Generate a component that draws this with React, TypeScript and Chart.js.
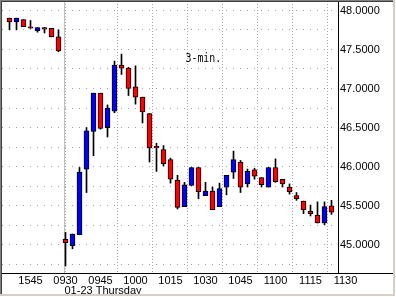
import React, { useEffect, useRef } from 'react';
import { Chart, registerables } from 'chart.js';

Chart.register(...registerables);

// 3-minute bars: previous session close, then 01-23 Thursday morning
const times = [
  '1536', '1539', '1542', '1545', '1548', '1551', '1554', '1557',
  '0930', '0933', '0936', '0939', '0942', '0945', '0948', '0951', '0954', '0957',
  '1000', '1003', '1006', '1009', '1012', '1015', '1018', '1021', '1024', '1027',
  '1030', '1033', '1036', '1039', '1042', '1045', '1048', '1051', '1054', '1057',
  '1100', '1103', '1106', '1109', '1112', '1115', '1118', '1121', '1124',
];

const opens = [
  47.90, 47.85, 47.88, 47.79, 47.74, 47.78, 47.77, 47.66,
  45.07, 44.99, 45.13, 45.97, 46.45, 46.94, 46.50, 46.71, 47.30, 47.26,
  47.02, 46.89, 46.68, 46.26, 46.22, 46.09, 45.83, 45.49, 45.76, 45.99,
  45.63, 45.69, 45.49, 45.74, 45.93, 46.06, 45.78, 45.96, 45.86, 45.74,
  45.99, 45.84, 45.74, 45.63, 45.56, 45.43, 45.38, 45.28, 45.50,
];

const highs = [
  47.90, 47.90, 47.88, 47.87, 47.78, 47.78, 47.77, 47.75,
  45.16, 45.14, 45.99, 46.50, 46.94, 46.94, 46.79, 47.35, 47.44, 47.27,
  47.29, 46.89, 46.68, 46.30, 46.27, 46.11, 45.89, 45.80, 45.99, 45.99,
  45.80, 45.74, 45.79, 45.89, 46.20, 46.08, 45.97, 45.98, 45.86, 45.99,
  46.10, 45.84, 45.78, 45.67, 45.56, 45.51, 45.55, 45.55, 45.57,
];

const lows = [
  47.75, 47.75, 47.79, 47.77, 47.72, 47.71, 47.66, 47.47,
  44.73, 44.95, 45.13, 45.67, 46.14, 46.48, 46.38, 46.69, 47.18, 46.91,
  46.80, 46.56, 46.06, 45.94, 46.01, 45.79, 45.46, 45.49, 45.76, 45.59,
  45.63, 45.45, 45.49, 45.64, 45.85, 45.67, 45.74, 45.84, 45.74, 45.74,
  45.80, 45.74, 45.65, 45.57, 45.40, 45.37, 45.28, 45.26, 45.39,
];

const closes = [
  47.85, 47.90, 47.79, 47.77, 47.78, 47.76, 47.66, 47.48,
  45.03, 45.14, 45.93, 46.46, 46.94, 46.49, 46.75, 47.30, 47.26, 47.00,
  46.89, 46.70, 46.24, 46.24, 46.04, 45.84, 45.48, 45.77, 45.99, 45.68,
  45.69, 45.45, 45.72, 45.89, 46.09, 45.74, 45.94, 45.88, 45.77, 45.99,
  45.81, 45.78, 45.68, 45.59, 45.45, 45.40, 45.28, 45.49, 45.42,
];

const xTickLabels = ['1545', '0930', '0945', '1000', '1015', '1030', '1045', '1100', '1115', '1130'];
const sessionStart = '0930';
const sessionLabel = '01-23 Thursday';
const priceLabels = [45.0, 45.5, 46.0, 46.5, 47.0, 47.5, 48.0];
const priceGrid = [44.75, 45.0, 45.25, 45.5, 45.75, 46.0, 46.25, 46.5, 46.75, 47.0, 47.25, 47.5, 47.75, 48.0];
const chartTitle = '3-min.';

const toMin = (t: string) => parseInt(t.slice(0, 2), 10) * 60 + parseInt(t.slice(2), 10);
const slotOf = (t: string) => {
  const i = times.indexOf(t);
  if (i >= 0) return i;
  const last = times.length - 1;
  return last + (toMin(t) - toMin(times[last])) / 3;
};

const FONT = '11px "Liberation Sans", Arial, sans-serif';

const decorPlugin = {
  id: 'decor',
  beforeDraw(chart: any) {
    const { ctx } = chart;
    ctx.save();
    ctx.fillStyle = '#ffffff';
    ctx.fillRect(0, 0, chart.width, chart.height);
    ctx.restore();
  },
  beforeDatasetsDraw(chart: any) {
    const { ctx, chartArea, scales } = chart;
    const x = Math.round(scales.x.getPixelForValue(slotOf(sessionStart))) - 0.5;
    ctx.save();
    ctx.strokeStyle = '#c0c0c0';
    ctx.lineWidth = 1;
    ctx.beginPath();
    ctx.moveTo(x, chartArea.top);
    ctx.lineTo(x, chartArea.bottom);
    ctx.stroke();
    ctx.restore();
  },
  afterDraw(chart: any) {
    const { ctx, chartArea, scales, width, height } = chart;
    const xs = scales.x;
    const ys = scales.y;
    ctx.save();
    // axis lines
    ctx.strokeStyle = '#000000';
    ctx.lineWidth = 1;
    ctx.beginPath();
    ctx.moveTo(chartArea.right + 0.5, 0);
    ctx.lineTo(chartArea.right + 0.5, chartArea.bottom + 0.5);
    ctx.moveTo(0, chartArea.bottom + 0.5);
    ctx.lineTo(width - 2, chartArea.bottom + 0.5);
    ctx.stroke();

    // x labels
    ctx.fillStyle = '#000000';
    ctx.font = FONT;
    ctx.textAlign = 'center';
    ctx.textBaseline = 'middle';
    xTickLabels.forEach((t) => {
      const px = xs.getPixelForValue(slotOf(t));
      ctx.fillText(t, px, chartArea.bottom + 8);
    });
    ctx.textAlign = 'left';
    ctx.fillText(sessionLabel, Math.round(xs.getPixelForValue(slotOf(sessionStart))) - 0.5, chartArea.bottom + 18);

    // y labels
    priceLabels.forEach((v) => {
      ctx.fillText(v.toFixed(4), chartArea.right + 2, ys.getPixelForValue(v) + 0.5);
    });

    // title
    ctx.save();
    ctx.font = '13px "DejaVu Sans Mono", "Liberation Mono", monospace';
    ctx.textBaseline = 'middle';
    ctx.translate(185.5, 58.5);
    ctx.scale(0.76, 1);
    ctx.fillText(chartTitle, 0, 0);
    ctx.restore();

    // frame
    ctx.fillStyle = '#808080';
    ctx.fillRect(0, 0, width, 1);
    ctx.fillRect(0, 0, 1, height);
    ctx.fillStyle = '#404040';
    ctx.fillRect(1, 1, width - 2, 1);
    ctx.fillRect(1, 1, 1, height - 2);
    ctx.fillStyle = '#d4d0c8';
    ctx.fillRect(0, height - 3, width, 3);
    ctx.fillRect(width - 3, 0, 3, height);
    ctx.fillStyle = '#ffffff';
    ctx.fillRect(0, height - 1, width, 1);
    ctx.fillRect(width - 1, 0, 1, height);
    ctx.restore();
  },
};

export default function App() {
  const ref = useRef<HTMLCanvasElement>(null);
  useEffect(() => {
    document.body.style.margin = '0';
    const bodies = times.map((_, i) => ({ x: i, y: [opens[i], closes[i]] }));
    const wicks = times.map((_, i) => ({ x: i, y: [lows[i], highs[i]] }));
    const chart = new Chart(ref.current as HTMLCanvasElement, {
      type: 'bar',
      data: {
        datasets: [
          {
            label: 'body',
            data: bodies as any,
            backgroundColor: (c: any) => (closes[c.dataIndex] > opens[c.dataIndex] ? '#0000ff' : '#ff0000'),
            borderColor: '#000000',
            borderWidth: 1,
            borderSkipped: false,
            barThickness: 5,
            grouped: false,
            order: 0,
          } as any,
          {
            label: 'wick',
            data: wicks as any,
            backgroundColor: '#000000',
            borderWidth: 0,
            barThickness: 1,
            grouped: false,
            order: 1,
          } as any,
        ],
      },
      options: {
        responsive: false,
        animation: false,
        layout: { padding: { left: 2, right: 58, top: 1, bottom: 24 } },
        plugins: { legend: { display: false }, tooltip: { enabled: false } },
        scales: {
          x: {
            type: 'linear',
            min: -1.0714,
            max: 46.9286,
            offset: false,
            ticks: { display: false },
            grid: { drawTicks: false, color: '#a8a8a8', lineWidth: 1 },
            border: { display: false, dash: [1, 2] },
            afterBuildTicks: (s: any) => {
              s.ticks = xTickLabels
                .filter((t) => t !== sessionStart)
                .map((t) => ({ value: slotOf(t) }))
                .filter((tk) => tk.value <= times.length - 1);
            },
          },
          y: {
            type: 'linear',
            position: 'right',
            min: 44.641,
            max: 48.119,
            ticks: { display: false },
            grid: { drawTicks: false, color: '#a0a0a0', lineWidth: 1 },
            border: { display: false, dash: [1, 6] },
            afterBuildTicks: (s: any) => {
              s.ticks = priceGrid.map((v) => ({ value: v }));
            },
          },
        },
      } as any,
      plugins: [decorPlugin],
    });
    return () => chart.destroy();
  }, []);
  return (
    <div style={{ width: 396, height: 297 }}>
      <canvas ref={ref} width={396} height={297} style={{ display: 'block' }} />
    </div>
  );
}
